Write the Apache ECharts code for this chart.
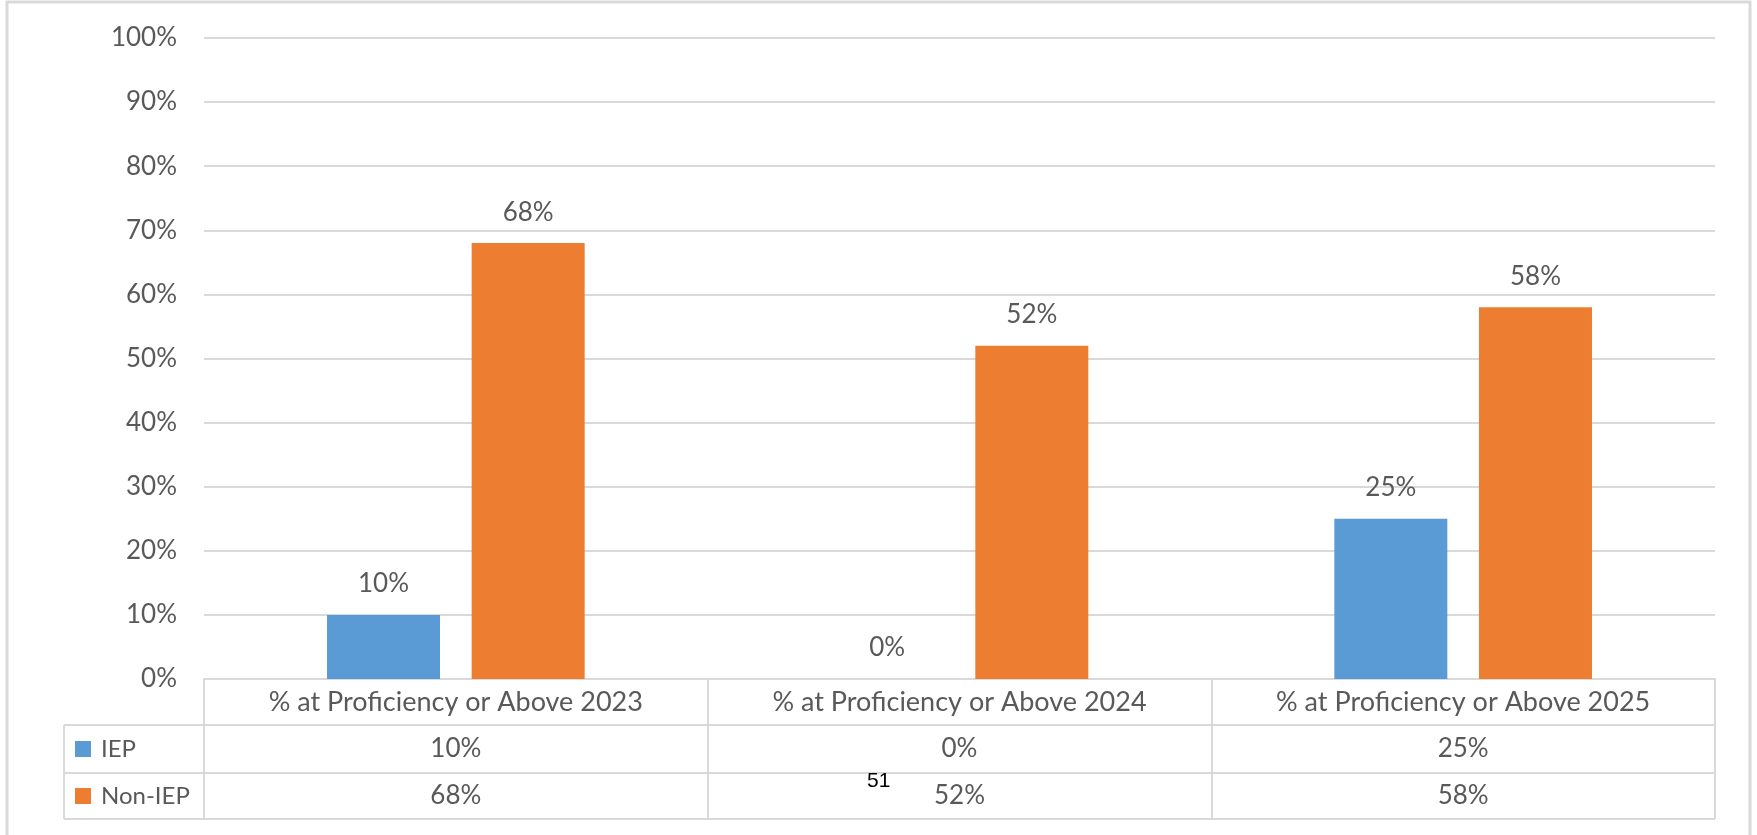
<!DOCTYPE html>
<html>
<head>
<meta charset="utf-8">
<script src="https://cdn.jsdelivr.net/npm/echarts@6/dist/echarts.min.js"></script>
<style>
html,body{margin:0;padding:0;background:#fff;}
#main{width:1757px;height:835px;}
</style>
</head>
<body>
<div id="main"></div>
<script>
const categories = ['% at Proficiency or Above 2023', '% at Proficiency or Above 2024', '% at Proficiency or Above 2025'];
const seriesNames = ['IEP', 'Non-IEP'];
const iepValues = [10, 0, 25];
const nonIepValues = [68, 52, 58];
const yMin = 0, yMax = 100, yInterval = 10;
const pageNumber = '51';

const FONT = 'Lato';
const GREY = '#595959';
const LINE = '#d9d9d9';
const colors = ['#5B9BD5', '#ED7D31'];
const NUM_SIZE = 26;
const TEXT_SIZE = 27;
const LEGEND_SIZE = 24;

const chart = echarts.init(document.getElementById('main'), null, {renderer: 'canvas'});

function rowAxis(values, margin) {
  return {
    type: 'category', data: categories, gridIndex: 0, position: 'bottom',
    axisLine: {show: false}, axisTick: {show: false}, splitLine: {show: false},
    axisLabel: {
      interval: 0, margin: margin, verticalAlign: 'middle',
      fontFamily: FONT, fontSize: NUM_SIZE, color: GREY,
      formatter: (v, i) => values[i] + '%'
    }
  };
}

const option = {
  backgroundColor: '#fff',
  animation: false,
  color: colors,
  grid: {left: 204, right: 42, top: 38, bottom: 156, containLabel: false, outerBoundsMode: 'none'},
  legend: {
    orient: 'vertical', left: 75, top: 734, padding: 0, itemGap: 17,
    icon: 'rect', itemWidth: 16, itemHeight: 16,
    textStyle: {fontFamily: FONT, fontSize: LEGEND_SIZE, color: GREY, lineHeight: 30, padding: [0, 0, 0, 5]},
    data: seriesNames
  },
  xAxis: [
    {
      type: 'category', data: categories, position: 'bottom',
      axisLine: {show: true, lineStyle: {color: LINE, width: 2}},
      axisTick: {show: true, interval: 0, length: 140, lineStyle: {color: LINE, width: 2}},
      axisLabel: {interval: 0, margin: 23, verticalAlign: 'middle', fontFamily: FONT, fontSize: TEXT_SIZE, color: GREY}
    },
    rowAxis(iepValues, 70),
    rowAxis(nonIepValues, 117)
  ],
  yAxis: {
    type: 'value', min: yMin, max: yMax, interval: yInterval,
    axisLine: {show: false}, axisTick: {show: false},
    splitLine: {lineStyle: {color: LINE, width: 2}},
    axisLabel: {formatter: '{value}%', margin: 27, fontFamily: FONT, fontSize: NUM_SIZE, color: GREY}
  },
  series: [
    {
      name: seriesNames[0], type: 'bar', data: iepValues, xAxisIndex: 0,
      barWidth: 113, barGap: '28%',
      label: {show: true, position: 'top', distance: 18, formatter: '{c}%', fontFamily: FONT, fontSize: NUM_SIZE, color: GREY}
    },
    {
      name: seriesNames[1], type: 'bar', data: nonIepValues, xAxisIndex: 0,
      barWidth: 113, barGap: '28%',
      label: {show: true, position: 'top', distance: 18, formatter: '{c}%', fontFamily: FONT, fontSize: NUM_SIZE, color: GREY}
    }
  ],
  graphic: [
    {type: 'rect', shape: {x: 7, y: 2, width: 1743, height: 845}, style: {fill: 'none', stroke: LINE, lineWidth: 3}, silent: true},
    {type: 'line', shape: {x1: 64, y1: 725, x2: 1715, y2: 725}, style: {stroke: LINE, lineWidth: 2}, silent: true},
    {type: 'line', shape: {x1: 64, y1: 773, x2: 1715, y2: 773}, style: {stroke: LINE, lineWidth: 2}, silent: true},
    {type: 'line', shape: {x1: 64, y1: 819, x2: 1715, y2: 819}, style: {stroke: LINE, lineWidth: 2}, silent: true},
    {type: 'line', shape: {x1: 64, y1: 725, x2: 64, y2: 819}, style: {stroke: LINE, lineWidth: 2}, silent: true},
    {type: 'text', left: 867, top: 771, style: {text: pageNumber, fontFamily: 'Liberation Sans, Arial', fontSize: 21, fill: '#000'}, silent: true}
  ]
};
chart.setOption(option);
</script>
</body>
</html>
